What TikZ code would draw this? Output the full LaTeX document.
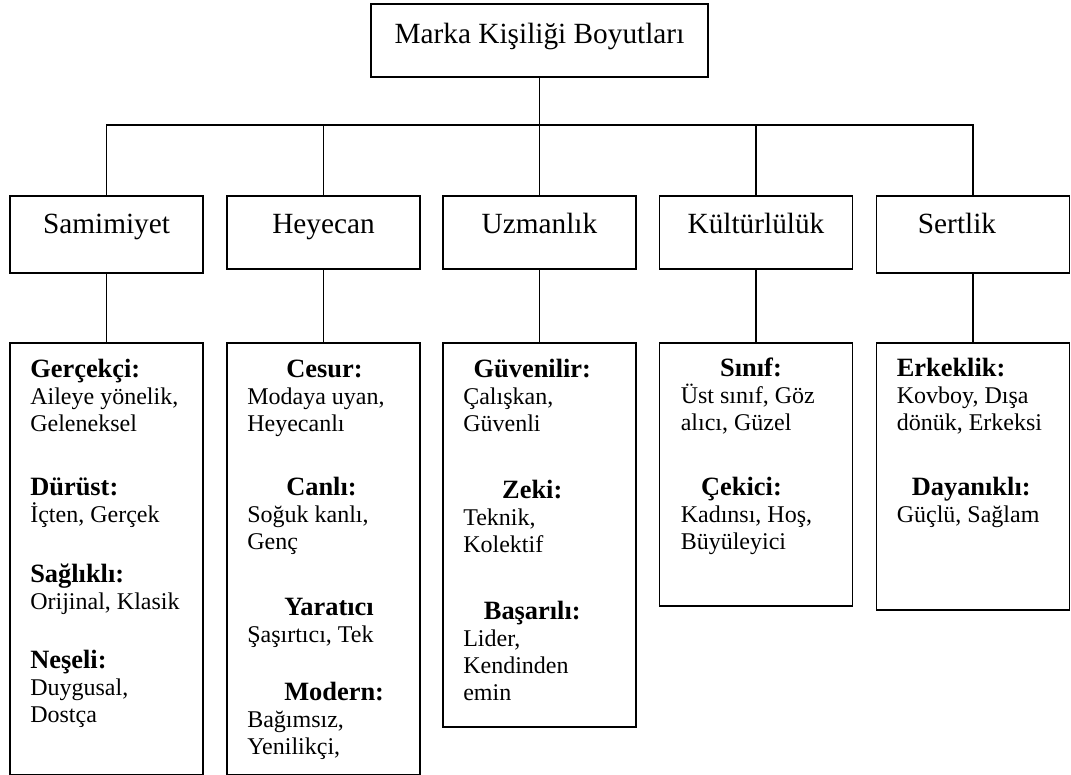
\documentclass[tikz,border=0pt]{standalone}
\usepackage{fontspec}
\setmainfont{Liberation Serif}
\usetikzlibrary{positioning}
\newcommand{\baslik}[1]{{\fontsize{26.4}{27}\selectfont\bfseries #1}}

\begin{document}
\begin{tikzpicture}[x=1pt, y=-1pt,
    box/.style={draw, line width=1.8pt, inner sep=0pt},
    head/.style={box, minimum width=193pt, font=\fontsize{29.3}{34}\selectfont, text height=20pt},
    tall/.style={minimum height=77pt, text depth=23pt},
    short/.style={minimum height=73pt, text depth=19pt},
    detail/.style={box, minimum width=193pt},
    items/.style={align=left, inner sep=0pt, anchor=base west, font=\fontsize{24}{27}\selectfont},
    link/.style={line width=1.6pt}]
    \useasboundingbox (0,0) rectangle (1071,774);

    % Top box
    \node[box, minimum width=337pt, minimum height=73pt, font=\fontsize{29.3}{34}\selectfont, text height=20pt, text depth=15pt] (marka) at (539.5,40.5) {Marka Kişiliği Boyutları};

    % Dimensions
    \node[head, tall] (sam) at (106.5,234.5) {Samimiyet};
    \node[head, short] (hey) at (323.5,232.5) {Heyecan};
    \node[head, short] (uzm) at (539.5,232.5) {Uzmanlık};
    \node[head, short] (kul) at (756,232.5) {Kültürlülük};
    \node[head, tall] (ser) at (973,234.5) {Sertlik\hspace*{32pt}};

    \foreach \n in {sam,hey,uzm,kul,ser}
        \draw[link] (marka.south) -- ++(0,47) -| (\n.north);

    % Facet boxes
    \node[detail, minimum height=432pt, below=68pt of sam] (samdet) {};
    \node[detail, minimum height=432pt, below=72pt of hey] (heydet) {};
    \node[detail, minimum height=384pt, below=72pt of uzm] (uzmdet) {};
    \node[detail, minimum height=263pt, below=72pt of kul] (kuldet) {};
    \node[detail, minimum height=267pt, below=68pt of ser] (serdet) {};

    \foreach \n in {sam,hey,uzm,kul,ser}
        \draw[link] (\n) -- (\n det);

    % Facets (base = last line)
    \node[items] (samtxt) at ([xshift=21pt, yshift=-381pt]samdet.north west)
        {\baslik{Gerçekçi:}\\ Aileye yönelik,\\ Geleneksel\\[37pt]
         \baslik{Dürüst:}\\ İçten, Gerçek\\[33pt]
         \baslik{Sağlıklı:}\\ Orijinal, Klasik\\[32pt]
         \baslik{Neşeli:}\\ Duygusal,\\ Dostça};
    \node[items] (heytxt) at ([xshift=21pt, yshift=-413pt]heydet.north west)
        {\hspace*{39pt}\baslik{Cesur:}\\ Modaya uyan,\\ Heyecanlı\\[37pt]
         \hspace*{39pt}\baslik{Canlı:}\\ Soğuk kanlı,\\ Genç\\[39pt]
         \hspace*{37pt}\baslik{Yaratıcı}\\ Şaşırtıcı, Tek\\[31pt]
         \hspace*{37pt}\baslik{Modern:}\\ Bağımsız,\\ Yenilikçi,};
    \node[items] (uzmtxt) at ([xshift=21pt, yshift=-359pt]uzmdet.north west)
        {\makebox[138pt]{\baslik{Güvenilir:}}\\ Çalışkan,\\ Güvenli\\[40pt]
         \makebox[138pt]{\baslik{Zeki:}}\\ Teknik,\\ Kolektif\\[40pt]
         \makebox[138pt]{\baslik{Başarılı:}}\\ Lider,\\ Kendinden\\ emin};
    \node[items] (kultxt) at ([xshift=22pt, yshift=-208pt]kuldet.north west)
        {\makebox[101pt][r]{\baslik{Sınıf:}}\\ Üst sınıf, Göz\\ alıcı, Güzel\\[38pt]
         \makebox[101pt][r]{\baslik{Çekici:}}\\ Kadınsı, Hoş,\\ Büyüleyici};
    \node[items] (sertxt) at ([xshift=21pt, yshift=-181pt]serdet.north west)
        {\baslik{Erkeklik:}\\ Kovboy, Dışa\\ dönük, Erkeksi\\[38pt]
         \hspace*{15pt}\baslik{Dayanıklı:}\\ Güçlü, Sağlam};
\end{tikzpicture}
\end{document}
